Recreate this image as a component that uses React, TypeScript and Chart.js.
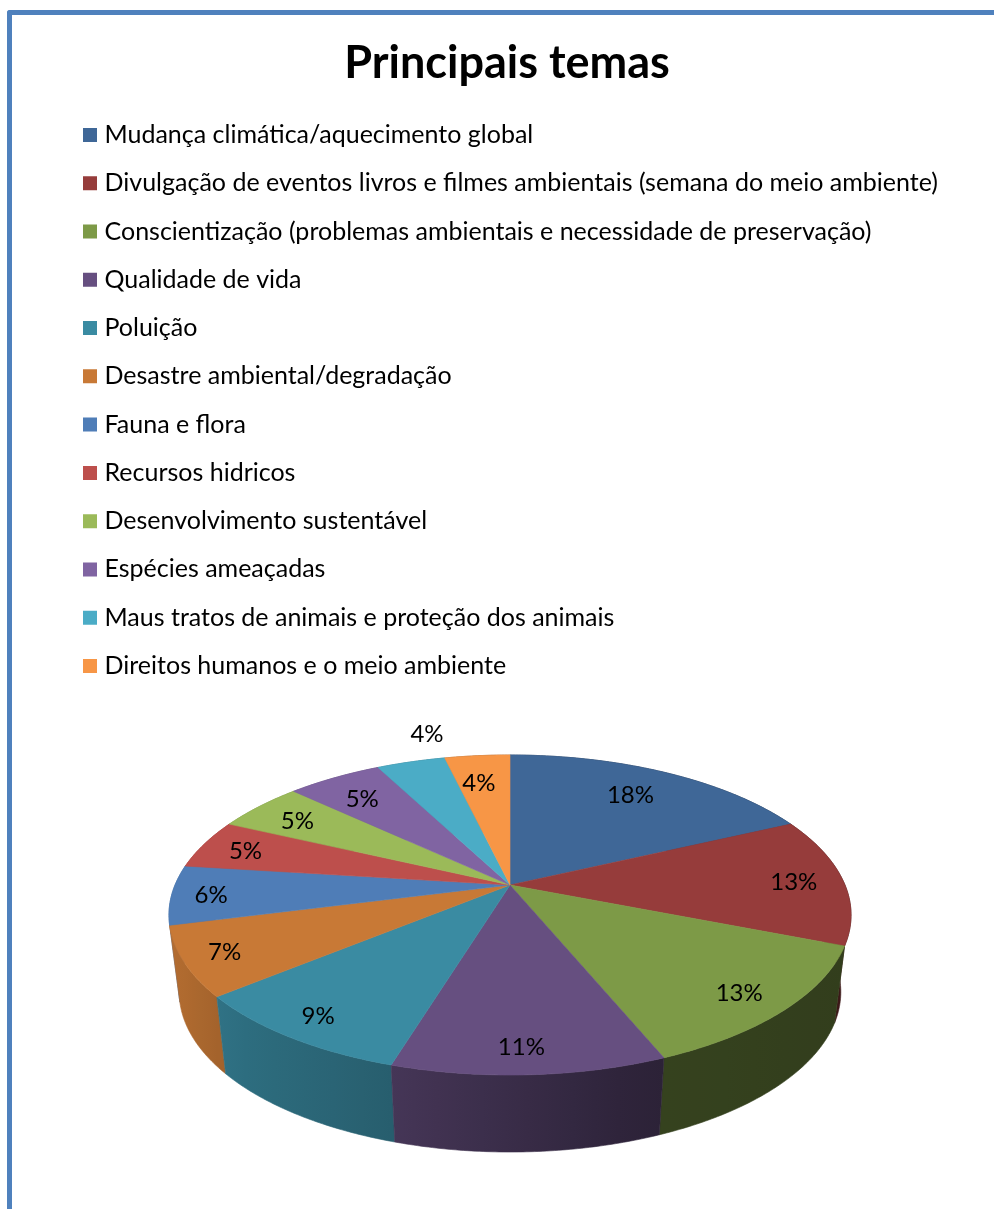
import React, { useEffect, useRef } from "react";
import { Chart, registerables } from "chart.js";

Chart.register(...registerables);

const titleText = "Principais temas";
const categories = [
  "Mudança climática/aquecimento global",
  "Divulgação de eventos livros e filmes ambientais (semana do meio ambiente)",
  "Conscientização (problemas ambientais e necessidade de preservação)",
  "Qualidade de vida",
  "Poluição",
  "Desastre ambiental/degradação",
  "Fauna e flora",
  "Recursos hidricos",
  "Desenvolvimento sustentável",
  "Espécies ameaçadas",
  "Maus tratos de animais e proteção dos animais",
  "Direitos humanos e o meio ambiente",
];
const shares = [18, 13, 12.8, 10.9, 9.3, 7, 6, 5, 5, 5.4, 3.9, 3.7];
const sliceColors = [
  "#3F6797", "#963C3B", "#7D9A47", "#664F80", "#3A8BA2", "#C87936",
  "#4F7DB7", "#BD4F4C", "#9BBA59", "#8064A2", "#4BACC6", "#F79646",
];
const FONT = "Lato, Carlito, Calibri, sans-serif";

// perspective of the disc: apex position, radius, foreshortening
const APEX_X = 510;
const APEX_Y = 885;
const RX = 335;
const RY = 154.4;
const PERSP = -0.1875;
// depth of the disc
const DEPTH = 77;
const BOTTOM_SCALE = 0.97;
// wall lighting by horizontal position
const SHADE_X = [170, 235, 390, 650, 850];
const SHADE_F = [0.9, 0.79, 0.68, 0.43, 0.4];

function project(angle: number, r: number) {
  const u = r * Math.cos(angle);
  const v = r * Math.sin(angle);
  const d = 1 + PERSP * v;
  return { x: APEX_X + (RX * u) / d, y: APEX_Y + (RY * v) / d };
}
function lower(p: { x: number; y: number }) {
  return { x: APEX_X + (p.x - APEX_X) * BOTTOM_SCALE, y: p.y + DEPTH };
}
function rimPoints(a0: number, a1: number) {
  const n = Math.max(2, Math.ceil(Math.abs(a1 - a0) / 0.01));
  const pts: { x: number; y: number }[] = [];
  for (let i = 0; i <= n; i++) pts.push(project(a0 + ((a1 - a0) * i) / n, 1));
  return pts;
}
function shadeAt(x: number) {
  if (x <= SHADE_X[0]) return SHADE_F[0];
  for (let i = 1; i < SHADE_X.length; i++) {
    if (x <= SHADE_X[i]) {
      const t = (x - SHADE_X[i - 1]) / (SHADE_X[i] - SHADE_X[i - 1]);
      return SHADE_F[i - 1] + (SHADE_F[i] - SHADE_F[i - 1]) * t;
    }
  }
  return SHADE_F[SHADE_F.length - 1];
}
function darken(hex: string, f: number) {
  const n = parseInt(hex.slice(1), 16);
  const r = Math.round(((n >> 16) & 255) * f);
  const g = Math.round(((n >> 8) & 255) * f);
  const b = Math.round((n & 255) * f);
  return `rgb(${r},${g},${b})`;
}

const pie3d = {
  id: "pie3d",
  beforeDatasetDraw(chart: any, args: any) {
    const { ctx } = chart;
    const arcs = args.meta.data.map((el: any, i: number) => {
      const p = el.getProps(["startAngle", "endAngle"], true);
      return { i, a0: p.startAngle, a1: p.endAngle, mid: (p.startAngle + p.endAngle) / 2 };
    });
    ctx.save();
    // walls, back to front
    const walls = [...arcs].sort((a: any, b: any) => project(a.mid, 1).y - project(b.mid, 1).y);
    for (const w of walls) {
      const top = rimPoints(w.a0, w.a1);
      const bottom = top.map(lower).reverse();
      const xs = top.map((p) => p.x);
      const minX = Math.min(...xs);
      const maxX = Math.max(...xs);
      const grad = ctx.createLinearGradient(minX, 0, maxX + 0.01, 0);
      for (let s = 0; s <= 6; s++) {
        grad.addColorStop(s / 6, darken(sliceColors[w.i], shadeAt(minX + ((maxX - minX) * s) / 6)));
      }
      ctx.beginPath();
      [...top, ...bottom].forEach((p, k) => (k ? ctx.lineTo(p.x, p.y) : ctx.moveTo(p.x, p.y)));
      ctx.closePath();
      ctx.fillStyle = grad;
      ctx.strokeStyle = grad;
      ctx.lineWidth = 0.6;
      ctx.fill();
      ctx.stroke();
    }
    // top surface
    for (const s of arcs) {
      ctx.beginPath();
      ctx.moveTo(APEX_X, APEX_Y);
      rimPoints(s.a0, s.a1).forEach((p) => ctx.lineTo(p.x, p.y));
      ctx.closePath();
      ctx.fillStyle = sliceColors[s.i];
      ctx.strokeStyle = sliceColors[s.i];
      ctx.lineWidth = 0.6;
      ctx.fill();
      ctx.stroke();
    }
    // percentage labels
    ctx.fillStyle = "#000";
    ctx.font = `24px ${FONT}`;
    ctx.textAlign = "center";
    ctx.textBaseline = "middle";
    arcs.forEach((s: any) => {
      const outside = s.i === 10;
      const sinMid = Math.sin(s.mid);
      const r = outside ? 1 : 0.87 - 0.1 * Math.max(0, -sinMid);
      const p = project(s.mid, r);
      const x = outside ? p.x + 16 : p.x - 5;
      const y = outside ? p.y - 28 : p.y + 1.5;
      ctx.fillText(`${Math.round(shares[s.i])}%`, x, y);
    });
    ctx.restore();
    return false;
  },
};

export default function App() {
  const ref = useRef<HTMLCanvasElement | null>(null);
  useEffect(() => {
    if (!ref.current) return;
    const chart = new Chart(ref.current, {
      type: "pie",
      data: {
        labels: categories,
        datasets: [{ data: shares, backgroundColor: sliceColors, borderWidth: 0 }],
      },
      plugins: [pie3d],
      options: {
        animation: false,
        responsive: false,
        devicePixelRatio: 1,
        layout: { padding: { left: 64.73, right: 44.73, top: 0, bottom: 0 } },
        plugins: {
          tooltip: { enabled: false },
          title: {
            display: true,
            text: titleText,
            color: "#000",
            font: { family: FONT, size: 45, weight: "bold", lineHeight: 1.2 },
            padding: { top: 36, bottom: 9.23 },
          },
          legend: {
            position: "left",
            align: "start",
            fullSize: false,
            maxWidth: 900,
            labels: {
              color: "#000",
              font: { family: FONT, size: 25 },
              boxWidth: 4,
              boxHeight: 4,
              padding: 23.27,
              generateLabels: () =>
                categories.map((text, i) => ({
                  text,
                  fillStyle: sliceColors[i],
                  strokeStyle: sliceColors[i],
                  lineWidth: 10,
                  hidden: false,
                  index: i,
                })),
            },
          },
        },
      },
    } as any);
    return () => chart.destroy();
  }, []);
  return (
    <div style={{ position: "fixed", left: 0, top: 0, width: 994, height: 1209, overflow: "hidden", background: "#fff" }}>
      <canvas ref={ref} width={994} height={1209} style={{ position: "absolute", left: 0, top: 0, display: "block" }} />
      <div
        style={{
          position: "absolute",
          left: 7,
          top: 10,
          width: 1000,
          height: 1220,
          borderLeft: "5px solid #4F81BD",
          borderTop: "5px solid #4F81BD",
          borderTopLeftRadius: 3,
          boxSizing: "border-box",
          pointerEvents: "none",
        }}
      />
    </div>
  );
}
